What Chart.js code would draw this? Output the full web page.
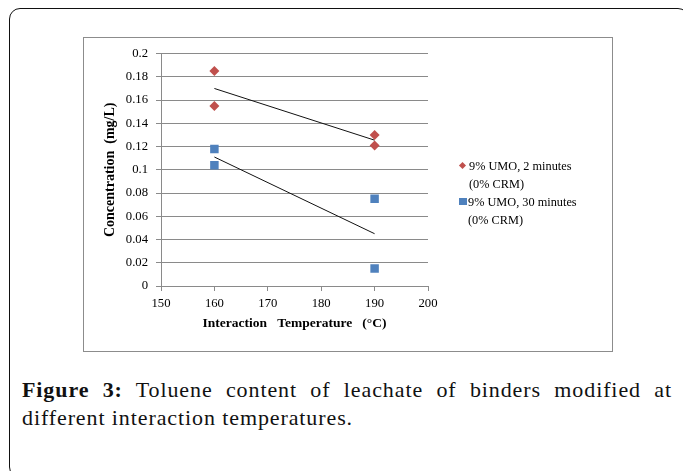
<!DOCTYPE html>
<html>
<head>
<meta charset="utf-8">
<script src="https://cdn.jsdelivr.net/npm/chart.js@4/dist/chart.umd.min.js"></script>
<style>
  html, body { margin: 0; padding: 0; background: #fff; width: 683px; height: 471px; overflow: hidden; }
  #frame { position: absolute; left: 9px; top: 8px; width: 680px; height: 470px; border: 1.5px solid #111; border-radius: 11px; box-sizing: border-box; }
  #box { position: absolute; left: 83px; top: 37px; width: 530px; height: 315px; border: 1px solid #8c8c8c; box-sizing: border-box; background: #fff; }
  #wrap { position: absolute; left: 0; top: 0; width: 528px; height: 313px; }
  .leg { position: absolute; font-family: "Liberation Serif", "Times New Roman", serif; font-size: 12.3px; color: #000; line-height: 18px; white-space: nowrap; }
  .mk { position: absolute; }
  #caption { position: absolute; left: 22px; top: 376px; width: 650px; font-family: "Liberation Serif", "Times New Roman", serif; font-size: 22px; letter-spacing: 0.9px; line-height: 28px; color: #111; }
  #caption .l1 { text-align: justify; text-align-last: justify; }
</style>
</head>
<body>
<div id="frame"></div>
<div id="box">
  <div id="wrap"><canvas id="c"></canvas></div>
</div>
<div class="mk" style="left:460px;top:163px;width:5px;height:5px;background:#C0504D;transform:rotate(45deg);"></div>
<div class="leg" id="l1" style="left:469px;top:157px;">9% UMO, 2 minutes<br>(0% CRM)</div>
<div class="mk" style="left:459px;top:198px;width:8px;height:7px;background:#4F81BD;"></div>
<div class="leg" id="l2" style="left:468px;top:193px;">9% UMO, 30 minutes<br>(0% CRM)</div>
<div id="caption"><div class="l1"><b>Figure 3:</b> Toluene content of leachate of binders modified at</div><div>different interaction temperatures.</div></div>
<script>
// ---- data ----
const temps = [160, 160, 190, 190];
const umo2min = [0.185, 0.155, 0.130, 0.121];
const umo30min = [0.118, 0.104, 0.075, 0.015];
const trendTemps = [160, 190];
const trend2min = [0.170, 0.1255];
const trend30min = [0.111, 0.045];
const yTickLabels = ["0", "0.02", "0.04", "0.06", "0.08", "0.1", "0.12", "0.14", "0.16", "0.18", "0.2"];
const xTickLabels = ["150", "160", "170", "180", "190", "200"];
const seriesNames = ["9% UMO, 2 minutes (0% CRM)", "9% UMO, 30 minutes (0% CRM)"];

const pts = (xs, ys) => xs.map((x, i) => ({ x: x, y: ys[i] }));
const serif = "'Liberation Serif', 'Times New Roman', serif";
const gridCol = '#8a8a8a';

new Chart(document.getElementById('c'), {
  type: 'scatter',
  data: {
    datasets: [
      { label: 'trend1', data: pts(trendTemps, trend2min), showLine: true, borderColor: '#111', borderWidth: 1, pointRadius: 0, order: 3 },
      { label: 'trend2', data: pts(trendTemps, trend30min), showLine: true, borderColor: '#111', borderWidth: 1, pointRadius: 0, order: 3 },
      { label: seriesNames[0], data: pts(temps, umo2min), pointStyle: 'rectRot', pointRadius: 5, backgroundColor: '#C0504D', borderColor: '#C0504D', borderWidth: 0, order: 1 },
      { label: seriesNames[1], data: pts(temps, umo30min), pointStyle: 'rect', pointRadius: 6, backgroundColor: '#4F81BD', borderColor: '#4F81BD', borderWidth: 0, order: 2 }
    ]
  },
  options: {
    responsive: true,
    maintainAspectRatio: false,
    animation: false,
    devicePixelRatio: 1,
    layout: { padding: { left: 0, top: 15, right: 184, bottom: 0 } },
    plugins: { legend: { display: false }, tooltip: { enabled: false } },
    scales: {
      x: {
        type: 'linear', min: 150, max: 200,
        afterFit: s => { s.height = 65; },
        ticks: { stepSize: 10, color: '#000', font: { family: serif, size: 12.7 }, padding: 5,
                 callback: (v) => { const i = Math.round((v - 150) / 10); return xTickLabels[i]; } },
        grid: { drawOnChartArea: false, drawTicks: true, tickLength: 5, color: gridCol },
        border: { display: true, color: gridCol, width: 1 },
        title: { display: true, text: 'Interaction\u00a0\u00a0 Temperature\u00a0\u00a0 (\u00b0C)', color: '#000', font: { family: serif, size: 13.5, weight: 'bold' }, padding: { top: 0, bottom: 19 } }
      },
      y: {
        min: 0, max: 0.2,
        afterFit: s => { s.width = 77; },
        ticks: { stepSize: 0.02, color: '#000', font: { family: serif, size: 12.7 }, padding: 8,
                 callback: (v) => { const i = Math.round(v / 0.02); return yTickLabels[i]; } },
        grid: { drawTicks: true, tickLength: 5, color: gridCol, lineWidth: 1 },
        border: { display: true, color: gridCol, width: 1 },
        title: { display: true, text: 'Concentration\u00a0 (mg/L)', color: '#000', font: { family: serif, size: 14, weight: 'bold' }, padding: { top: 18, bottom: 0 } }
      }
    }
  }
});
</script>
</body>
</html>
